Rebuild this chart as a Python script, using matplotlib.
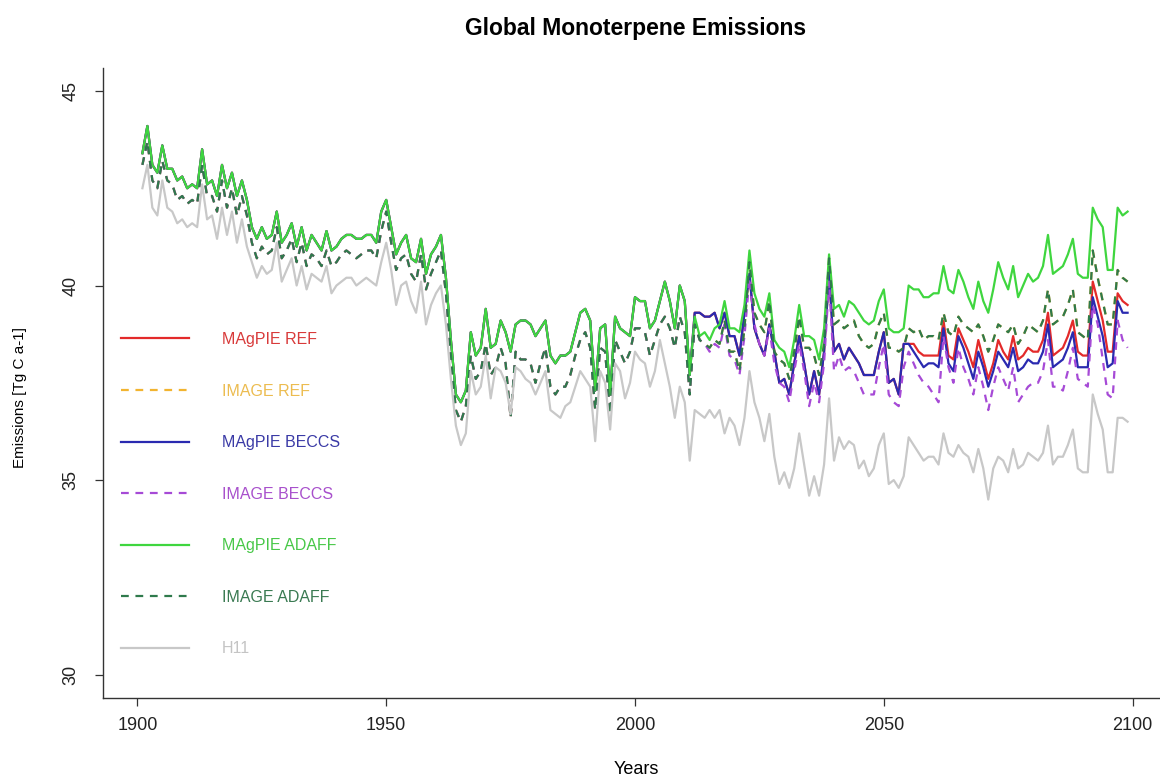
import numpy as np
import matplotlib
matplotlib.use("Agg")
import matplotlib.pyplot as plt

plt.rcParams["font.family"] = ["Liberation Sans", "DejaVu Sans"]

YEARS = np.arange(1901, 2100)

# Historic part, shared by every MAgPIE / IMAGE scenario (1901-2010).
MAGPIE_HIST = [
    43.4, 44.1, 43.1, 42.9, 43.6, 43.0, 43.0, 42.7, 42.8, 42.5,
    42.6, 42.5, 43.5, 42.6, 42.7, 42.3, 43.1, 42.5, 42.9, 42.3,
    42.7, 42.2, 41.5, 41.2, 41.5, 41.2, 41.3, 41.9, 41.1, 41.3,
    41.6, 41.0, 41.5, 40.9, 41.3, 41.1, 40.9, 41.4, 40.9, 41.0,
    41.2, 41.3, 41.3, 41.2, 41.2, 41.3, 41.3, 41.1, 41.9, 42.2,
    41.5, 40.8, 41.1, 41.3, 40.7, 40.6, 41.2, 40.3, 40.8, 41.0,
    41.3, 40.2, 38.6, 37.2, 37.0, 37.3, 38.8, 38.2, 38.4, 39.4,
    38.4, 38.5, 39.1, 38.8, 38.3, 39.0, 39.1, 39.1, 39.0, 38.7,
    38.9, 39.1, 38.2, 38.0, 38.2, 38.2, 38.3, 38.8, 39.3, 39.4,
    39.1, 37.3, 38.9, 39.0, 37.2, 39.2, 38.9, 38.8, 38.7, 39.7,
    39.6, 39.6, 38.9, 39.1, 39.6, 40.1, 39.6, 38.9, 40.0, 39.6,
]
IMAGE_HIST = [
    43.1, 43.7, 42.7, 42.5, 43.2, 42.7, 42.6, 42.2, 42.3, 42.1,
    42.2, 42.1, 43.1, 42.3, 42.3, 41.9, 42.7, 42.0, 42.5, 41.8,
    42.3, 41.8, 41.1, 40.7, 41.0, 40.8, 40.9, 41.5, 40.7, 40.9,
    41.2, 40.6, 41.1, 40.5, 40.8, 40.7, 40.5, 40.9, 40.5, 40.6,
    40.8, 40.9, 40.8, 40.7, 40.8, 40.9, 40.9, 40.7, 41.4, 41.9,
    41.1, 40.4, 40.7, 40.8, 40.3, 40.1, 40.8, 39.9, 40.3, 40.6,
    40.9, 39.8, 38.2, 36.8, 36.5, 36.9, 38.2, 37.6, 37.8, 38.5,
    37.7, 37.9, 38.4, 38.0, 36.6, 38.3, 38.1, 38.1, 38.0, 37.5,
    38.0, 38.4, 37.4, 37.2, 37.4, 37.4, 37.7, 38.2, 38.6, 38.8,
    38.4, 36.8, 38.4, 38.3, 36.7, 38.6, 38.3, 38.0, 38.3, 38.9,
    38.9, 38.8, 38.2, 38.6, 39.0, 39.2, 38.9, 38.4, 39.2, 38.8,
]

# Scenario part (2011-2099).
MAGPIE_REF_FUT = [
    37.7, 39.3, 39.3, 39.2, 39.2, 39.3, 38.9, 39.3, 38.7, 38.7,
    38.2, 39.3, 40.3, 38.9, 38.5, 38.2, 39.0, 38.3, 37.5, 37.6,
    37.2, 38.0, 38.7, 38.0, 37.2, 37.8, 37.2, 38.3, 40.3, 38.3,
    38.5, 38.1, 38.4, 38.2, 38.0, 37.7, 37.7, 37.7, 38.3, 38.8,
    37.5, 37.6, 37.2, 38.5, 38.5, 38.5, 38.3, 38.2, 38.2, 38.2,
    38.2, 39.1, 38.2, 38.1, 38.9, 38.6, 38.3, 37.9, 38.6, 38.1,
    37.6, 38.0, 38.6, 38.3, 38.1, 38.7, 38.1, 38.2, 38.4, 38.3,
    38.3, 38.6, 39.3, 38.2, 38.3, 38.4, 38.7, 39.1, 38.3, 38.2,
    38.2, 40.1, 39.6, 39.1, 38.3, 38.3, 39.8, 39.6, 39.5,
]
MAGPIE_BECCS_FUT = [
    37.7, 39.3, 39.3, 39.2, 39.2, 39.3, 38.9, 39.3, 38.7, 38.7,
    38.2, 39.3, 40.3, 38.9, 38.5, 38.2, 39.0, 38.3, 37.5, 37.6,
    37.2, 38.0, 38.7, 38.0, 37.2, 37.8, 37.2, 38.3, 40.3, 38.3,
    38.5, 38.1, 38.4, 38.2, 38.0, 37.7, 37.7, 37.7, 38.3, 38.8,
    37.5, 37.6, 37.2, 38.5, 38.5, 38.3, 38.1, 37.9, 38.0, 38.0,
    37.9, 38.9, 38.0, 37.8, 38.7, 38.4, 38.0, 37.6, 38.3, 37.9,
    37.4, 37.8, 38.3, 38.1, 37.9, 38.4, 37.8, 37.9, 38.1, 38.0,
    38.0, 38.3, 39.0, 37.9, 38.0, 38.1, 38.4, 38.8, 37.9, 37.9,
    37.9, 39.7, 39.2, 38.7, 37.9, 38.0, 39.6, 39.3, 39.3,
]
MAGPIE_ADAFF_FUT = [
    37.7, 39.2, 38.7, 38.8, 38.6, 38.9, 39.0, 39.6, 38.9, 38.9,
    38.8, 39.5, 40.9, 39.8, 39.4, 39.2, 39.8, 38.6, 38.4, 38.3,
    37.9, 38.6, 39.5, 38.7, 38.7, 38.6, 38.1, 38.9, 40.8, 39.4,
    39.5, 39.2, 39.6, 39.5, 39.3, 39.1, 39.0, 39.1, 39.6, 39.9,
    38.9, 38.8, 38.8, 38.9, 40.0, 39.9, 39.9, 39.7, 39.7, 39.8,
    39.8, 40.5, 39.9, 39.8, 40.4, 40.1, 39.7, 39.4, 40.1, 39.6,
    39.3, 39.9, 40.6, 40.2, 39.9, 40.5, 39.7, 40.0, 40.3, 40.1,
    40.2, 40.5, 41.3, 40.3, 40.4, 40.5, 40.8, 41.2, 40.3, 40.2,
    40.2, 42.0, 41.7, 41.5, 40.4, 40.4, 42.0, 41.8, 41.9,
]
IMAGE_ADAFF_FUT = [
    37.2, 39.0, 38.6, 38.5, 38.4, 38.6, 38.5, 39.1, 38.3, 38.3,
    37.8, 38.9, 40.6, 39.3, 39.0, 38.8, 39.6, 38.3, 38.1, 38.0,
    37.6, 38.3, 39.2, 38.4, 38.4, 38.2, 37.7, 38.5, 40.7, 39.0,
    39.1, 38.9, 39.0, 39.1, 38.7, 38.5, 38.4, 38.5, 39.0, 39.3,
    38.4, 38.4, 38.3, 38.4, 38.9, 38.8, 38.9, 38.6, 38.7, 38.7,
    38.6, 39.3, 38.8, 38.7, 39.2, 39.0, 38.9, 38.8, 39.0, 38.7,
    38.3, 38.6, 39.0, 38.9, 38.8, 39.0, 38.5, 38.7, 39.0, 38.9,
    38.8, 39.1, 39.9, 39.0, 39.1, 39.2, 39.5, 39.9, 38.8, 38.7,
    38.6, 40.9, 40.2, 39.6, 39.0, 39.0, 40.4, 40.2, 40.1,
]
# IMAGE REF is not visible in the figure: it sits exactly under IMAGE ADAFF.
IMAGE_REF_FUT = IMAGE_ADAFF_FUT
IMAGE_BECCS_FUT = [
    37.2, 39.0, 38.6, 38.5, 38.3, 38.5, 38.4, 39.0, 38.2, 38.1,
    37.7, 38.7, 40.2, 39.0, 38.5, 38.2, 38.9, 38.0, 37.5, 37.4,
    37.0, 37.8, 38.5, 37.8, 36.9, 37.5, 37.0, 38.0, 40.1, 37.8,
    38.2, 37.8, 37.9, 37.8, 37.5, 37.2, 37.2, 37.2, 37.9, 38.5,
    37.2, 37.0, 36.9, 37.9, 38.3, 38.0, 37.7, 37.5, 37.4, 37.2,
    37.0, 38.7, 37.9, 37.5, 38.4, 37.9, 37.6, 37.2, 37.9, 37.4,
    36.8, 37.4, 37.9, 37.6, 37.3, 37.9, 37.0, 37.2, 37.4, 37.5,
    37.5, 37.8, 38.6, 37.4, 37.4, 37.3, 37.8, 38.4, 37.6, 37.5,
    37.4, 39.5, 39.0, 38.1, 37.2, 37.1, 39.1, 38.6, 38.4,
]

H11 = [
    42.5, 43.1, 42.0, 41.8, 42.7, 42.0, 41.9, 41.6, 41.7, 41.5,
    41.6, 41.5, 42.6, 41.7, 41.8, 41.2, 42.0, 41.3, 41.9, 41.1,
    41.7, 41.0, 40.6, 40.2, 40.5, 40.3, 40.4, 41.1, 40.1, 40.4,
    40.7, 40.0, 40.5, 39.9, 40.3, 40.2, 40.1, 40.5, 39.8, 40.0,
    40.1, 40.2, 40.2, 40.0, 40.1, 40.2, 40.1, 40.0, 40.6, 41.1,
    40.4, 39.5, 40.0, 40.1, 39.6, 39.3, 40.1, 39.0, 39.5, 39.8,
    40.0, 39.0, 37.6, 36.4, 35.9, 36.2, 37.8, 37.2, 37.4, 38.2,
    37.1, 37.9, 37.8, 37.5, 36.7, 37.9, 37.8, 37.6, 37.5, 37.2,
    37.5, 37.8, 36.8, 36.7, 36.6, 36.9, 37.0, 37.4, 37.8, 37.6,
    37.4, 36.0, 37.8, 37.5, 36.3, 38.0, 37.8, 37.1, 37.5, 38.3,
    38.1, 38.0, 37.4, 37.8, 38.6, 38.0, 37.4, 36.6, 37.4, 37.0,
    35.5, 36.8, 36.7, 36.6, 36.8, 36.6, 36.8, 36.2, 36.6, 36.4,
    35.9, 36.6, 37.8, 37.0, 36.6, 36.0, 36.7, 35.6, 34.9, 35.2,
    34.8, 35.3, 36.2, 35.4, 34.6, 35.1, 34.6, 35.4, 37.1, 35.5,
    36.1, 35.8, 36.0, 35.9, 35.3, 35.5, 35.1, 35.3, 35.9, 36.2,
    34.9, 35.0, 34.8, 35.1, 36.1, 35.9, 35.7, 35.5, 35.6, 35.6,
    35.4, 36.2, 35.7, 35.6, 35.9, 35.7, 35.6, 35.2, 35.8, 35.3,
    34.5, 35.3, 35.6, 35.5, 35.2, 35.8, 35.3, 35.4, 35.7, 35.6,
    35.5, 35.7, 36.4, 35.4, 35.6, 35.6, 35.9, 36.3, 35.3, 35.2,
    35.2, 37.2, 36.7, 36.3, 35.2, 35.2, 36.6, 36.6, 36.5,
]

LABELS = ["MAgPIE REF", "IMAGE REF", "MAgPIE BECCS", "IMAGE BECCS",
          "MAgPIE ADAFF", "IMAGE ADAFF", "H11"]
COLORS = ["#e32a2a", "#f2b430", "#2a2ab0", "#a64ad6", "#3fd63f", "#2f7a4c", "#c8c8c8"]
TEXT_COLORS = ["#d83a3a", "#ecbc50", "#3a3aa6", "#a850cc", "#48c848", "#3a7a52", "#c4c4c4"]
DASHED = [False, True, False, True, False, True, False]

series = [
    np.r_[MAGPIE_HIST, MAGPIE_REF_FUT],
    np.r_[IMAGE_HIST, IMAGE_REF_FUT],
    np.r_[MAGPIE_HIST, MAGPIE_BECCS_FUT],
    np.r_[IMAGE_HIST, IMAGE_BECCS_FUT],
    np.r_[MAGPIE_HIST, MAGPIE_ADAFF_FUT],
    np.r_[IMAGE_HIST, IMAGE_ADAFF_FUT],
    np.asarray(H11),
]
for s in series:
    assert len(s) == len(YEARS)

W, H = 1160, 780
fig = plt.figure(figsize=(W/100, H/100), dpi=100)
# R-style plot region: x axis extends 4% past 1901/2099 and runs off the right edge.
left, right, top, bottom = 103, 1167, 67.6, 698
ax = fig.add_axes([left/W, 1 - bottom/H, (right - left)/W, (bottom - top)/H])

handles = []
for y, lab, col, dashed in zip(series, LABELS, COLORS, DASHED):
    ln, = ax.plot(YEARS, y, color=col, lw=1.6, label=lab)
    if dashed:
        ln.set_dashes((3.5, 3))
    handles.append(ln)

ax.set_xlim(1893.08, 2106.92)
ax.set_ylim(29.4, 45.6)
ax.set_xticks([1900, 1950, 2000, 2050, 2100])
ax.set_yticks([30, 35, 40, 45])
for sp in ["top", "right"]:
    ax.spines[sp].set_visible(False)
for sp in ["left", "bottom"]:
    ax.spines[sp].set_color("#333333")
    ax.spines[sp].set_linewidth(1.0)
ax.tick_params(axis="both", direction="out", length=6, width=0.9, color="#333333",
               labelsize=13, labelcolor="#222222")
ax.tick_params(axis="x", pad=8)
ax.tick_params(axis="y", pad=11, labelrotation=90)
for t in ax.get_yticklabels():
    t.set_va("center")

leg = ax.legend(handles=handles, loc="upper left", frameon=False, fontsize=11.5,
                bbox_to_anchor=(121/W, 1 - 332/H), bbox_transform=fig.transFigure,
                handlelength=4.25, handletextpad=2.05, labelspacing=2.29,
                borderaxespad=0, borderpad=0)
for txt, c in zip(leg.get_texts(), TEXT_COLORS):
    txt.set_color(c)

fig.text(636/W, 1 - 28/H, "Global Monoterpene Emissions", ha="center", va="center",
         fontsize=16.5, fontweight="bold")
fig.text(636/W, 1 - 770/H, "Years", ha="center", va="center", fontsize=13)
fig.text(20/W, 1 - 398/H, "Emissions [Tg C a-1]", ha="center", va="center",
         rotation=90, fontsize=11)

fig.savefig("out.png", dpi=100)
